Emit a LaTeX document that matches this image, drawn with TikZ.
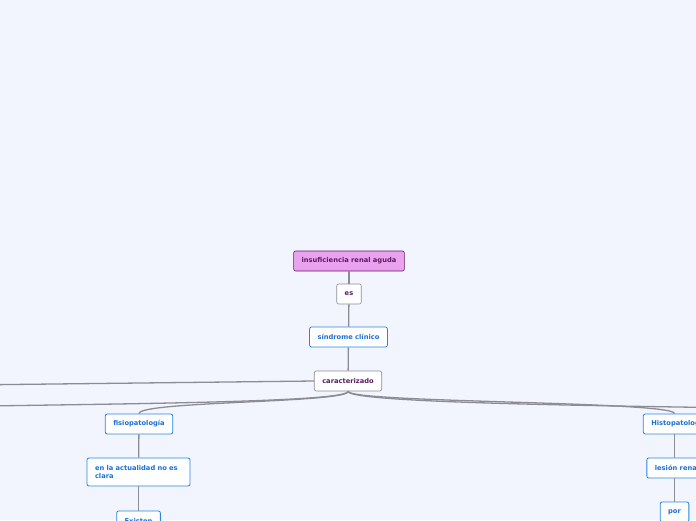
\documentclass[tikz,border=0pt]{standalone}
\usepackage{fontspec}
\setmainfont{DejaVu Sans}
\usetikzlibrary{positioning}
\definecolor{MapBack}{RGB}{242,245,254}
\definecolor{MapPlum}{RGB}{92,30,96}
\definecolor{MapPink}{RGB}{234,162,240}
\definecolor{MapBlue}{RGB}{38,134,228}
\definecolor{MapBlueText}{RGB}{28,112,214}
\definecolor{MapGray}{RGB}{140,140,152}
\definecolor{MapLine}{RGB}{140,140,150}
\tikzset{
  map/root/.style={
    draw=MapPlum,
    semithick,
    rounded corners=2pt,
    fill=MapPink,
    text=MapPlum,
    minimum height=20pt,
    inner xsep=8pt,
    font=\fontsize{6.7}{8}\selectfont\bfseries
  },
  map/link/.style={
    draw=MapGray,
    semithick,
    rounded corners=2pt,
    fill=white,
    text=MapPlum,
    minimum height=20pt,
    inner xsep=8pt,
    font=\fontsize{6.7}{8}\selectfont\bfseries
  },
  map/topic/.style={
    draw=MapBlue,
    thick,
    rounded corners=2pt,
    fill=white,
    text=MapBlueText,
    minimum height=20pt,
    inner xsep=8pt,
    font=\fontsize{6.7}{8}\selectfont\bfseries
  },
  map/edge/.style={draw=MapLine, line width=1.3pt}
}

\begin{document}
\begin{tikzpicture}[x=1pt,y=-1pt]
  \fill[MapBack] (0,0) rectangle (696,520);
  \useasboundingbox (0,0) rectangle (696,520);
  \clip (0,0) rectangle (696,520);
  % main stem
  \node[map/root] (ira) at (349,261) {insuficiencia renal aguda};
  \node[map/link] (es) at (349,294) {es};
  \node[map/topic] (sind) at (348.5,337) {síndrome clínico};
  \node[map/link] (carac) at (348,381) {caracterizado};
  % branches
  \node[map/topic] (fisio) at (139,424) {fisiopatología};
  \node[map/topic,text width=87pt,align=left,minimum height=28pt] (actual) at (138.5,472) {en la actualidad no es clara};
  \node[map/topic] (existen) at (138.5,521) {Existen};
  \node[map/topic] (histo) at (679,424) {Histopatología};
  \node[map/topic] (lesion) at (677,468) {lesión renal};
  \node[map/topic] (por) at (674.5,512) {por};
  \coordinate (offA) at (-120,386);
  \coordinate (offB) at (-120,408);
  \coordinate (offC) at (820,409);
  \draw[map/edge] (ira) -- (es);
  \draw[map/edge] (es) -- (sind);
  \draw[map/edge] (sind) -- (carac);
  \draw[map/edge] (carac.west) -- (offA);
  \draw[map/edge] (carac.south) .. controls (349,404) and (40,404) .. (offB);
  \draw[map/edge] (carac.south) .. controls (349,403) and (139,401) .. (fisio.north);
  \draw[map/edge] (carac.south) .. controls (349,403) and (675,401) .. (histo.north -| por);
  \draw[map/edge] (carac.south) .. controls (349,403) and (600,406) .. (offC);
  \draw[map/edge] (fisio) -- (actual);
  \draw[map/edge] (actual) -- (existen);
  \draw[map/edge] (histo.south -| por) -- (lesion.north -| por);
  \draw[map/edge] (lesion.south -| por) -- (por);
\end{tikzpicture}
\end{document}
